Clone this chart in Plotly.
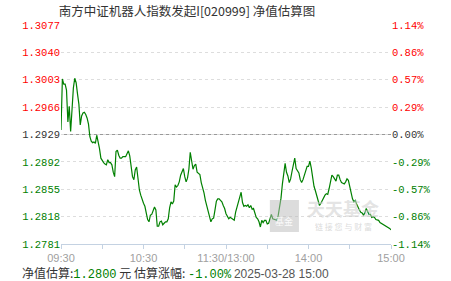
import plotly.graph_objects as go

title_text = "南方中证机器人指数发起I[020999] 净值估算图"
base_nav = 1.2929
est_date = "2025-03-28 15:00"

nav = [
    1.2935, 1.3004, 1.2997, 1.2997, 1.2989, 1.2946, 1.2967, 1.2933, 1.2962, 1.2992,
    1.3005, 1.2999, 1.2984, 1.2970, 1.2942, 1.2954, 1.2958, 1.2959, 1.2956, 1.2951,
    1.2943, 1.2926, 1.2920, 1.2918, 1.2919, 1.2917, 1.2928, 1.2920, 1.2910, 1.2897,
    1.2893, 1.2891, 1.2889, 1.2888, 1.2895, 1.2891, 1.2891, 1.2888, 1.2878, 1.2872,
    1.2906, 1.2908, 1.2901, 1.2897, 1.2897, 1.2899, 1.2899, 1.2899, 1.2903, 1.2907,
    1.2900, 1.2884, 1.2872, 1.2868, 1.2881, 1.2885, 1.2865, 1.2854, 1.2847, 1.2840,
    1.2836, 1.2832, 1.2822, 1.2814, 1.2811, 1.2820, 1.2821, 1.2827, 1.2831, 1.2827,
    1.2805, 1.2805, 1.2811, 1.2812, 1.2807, 1.2809, 1.2811, 1.2811, 1.2815, 1.2830,
    1.2838, 1.2835, 1.2839, 1.2861, 1.2858, 1.2860, 1.2865, 1.2874, 1.2880, 1.2883,
    1.2872, 1.2865, 1.2870, 1.2882, 1.2905, 1.2895, 1.2882, 1.2887, 1.2889, 1.2878,
    1.2877, 1.2875, 1.2864, 1.2858, 1.2850, 1.2840, 1.2832, 1.2824, 1.2820, 1.2811,
    1.2815, 1.2816, 1.2827, 1.2839, 1.2842, 1.2842, 1.2840, 1.2838, 1.2833, 1.2829,
    1.2822, 1.2818, 1.2815, 1.2817, 1.2816, 1.2815, 1.2813, 1.2824, 1.2831, 1.2838,
    1.2844, 1.2851, 1.2837, 1.2832, 1.2833, 1.2832, 1.2834, 1.2830, 1.2833, 1.2828,
    1.2829, 1.2823, 1.2817, 1.2815, 1.2811, 1.2804, 1.2813, 1.2810, 1.2813, 1.2813,
    1.2808, 1.2809, 1.2816, 1.2821, 1.2815, 1.2814, 1.2813, 1.2813, 1.2820, 1.2830,
    1.2843, 1.2862, 1.2881, 1.2890, 1.2878, 1.2873, 1.2864, 1.2869, 1.2879, 1.2891,
    1.2897, 1.2883, 1.2879, 1.2877, 1.2868, 1.2864, 1.2868, 1.2874, 1.2878, 1.2886,
    1.2886, 1.2893, 1.2884, 1.2870, 1.2859, 1.2853, 1.2845, 1.2838, 1.2833, 1.2836,
    1.2840, 1.2845, 1.2847, 1.2849, 1.2848, 1.2856, 1.2866, 1.2874, 1.2872, 1.2868,
    1.2866, 1.2874, 1.2874, 1.2868, 1.2864, 1.2863, 1.2862, 1.2865, 1.2869, 1.2867,
    1.2859, 1.2847, 1.2842, 1.2838, 1.2840, 1.2835, 1.2830, 1.2827, 1.2824, 1.2823,
    1.2820, 1.2823, 1.2829, 1.2825, 1.2821, 1.2821, 1.2817, 1.2818, 1.2817, 1.2814,
    1.2813, 1.2813, 1.2810, 1.2809, 1.2808, 1.2807, 1.2806, 1.2805, 1.2804, 1.2802,
    1.2800,
]

y_tick_values = [1.2781, 1.2818, 1.2855, 1.2892, 1.2929, 1.2966, 1.3003, 1.3040, 1.3077]
y_tick_labels = ["1.2781", "1.2818", "1.2855", "1.2892", "1.2929", "1.2966", "1.3003", "1.3040", "1.3077"]
pct_tick_labels = ["-1.14%", "-0.86%", "-0.57%", "-0.29%", "0.00%", "0.29%", "0.57%", "0.86%", "1.14%"]
x_tick_minutes = [0, 30, 60, 90, 120, 150, 180, 210, 240]
x_tick_labels = ["09:30", "", "10:30", "", "11:30/13:00", "", "14:00", "", "15:00"]

RED = "#ff0000"
GREEN = "#008000"
DARK = "#333333"


def col(v):
    if v > base_nav + 1e-9:
        return RED
    if v < base_nav - 1e-9:
        return GREEN
    return DARK


left_text = [f"<span style='color:{col(v)}'>{t}</span>" for v, t in zip(y_tick_values, y_tick_labels)]
right_text = [f"<span style='color:{col(v)}'>{t}</span>" for v, t in zip(y_tick_values, pct_tick_labels)]

minutes = list(range(len(nav)))

fig = go.Figure()
fig.add_trace(go.Scatter(x=minutes, y=nav, mode="lines",
                         line=dict(color=GREEN, width=1.2), hoverinfo="skip", showlegend=False))
fig.add_trace(go.Scatter(x=minutes, y=nav, mode="lines", yaxis="y2",
                         line=dict(color="rgba(0,0,0,0)", width=0), hoverinfo="skip", showlegend=False))

mono = "Liberation Mono, DejaVu Sans Mono, monospace"

fig.update_layout(
    width=451, height=281,
    margin=dict(l=61, r=60, t=25, b=37),
    paper_bgcolor="white", plot_bgcolor="white",
    title=dict(text=title_text, x=187 / 451, xanchor="center", xref="container",
               y=1 - 12 / 281, yanchor="middle", yref="container",
               font=dict(family="Noto Sans CJK SC", size=12.5, color=DARK)),
    xaxis=dict(range=[0, 240], tickvals=x_tick_minutes, ticktext=x_tick_labels,
               showgrid=False, zeroline=False, showline=True, linecolor="#c4d2e2", linewidth=1,
               ticks="outside", ticklen=4, tickcolor="#c4d2e2",
               tickfont=dict(family="Liberation Sans, Arial", size=11, color="#a0a0a0")),
    yaxis=dict(range=[y_tick_values[0], y_tick_values[-1]], tickvals=y_tick_values, ticktext=left_text,
               showgrid=True, gridcolor="#dddddd", griddash="dot", gridwidth=1,
               zeroline=False, showline=False, ticks="",
               tickfont=dict(family=mono, size=10.5)),
    yaxis2=dict(range=[y_tick_values[0], y_tick_values[-1]], overlaying="y", side="right",
                tickvals=y_tick_values, ticktext=right_text, showgrid=False,
                zeroline=False, showline=False, ticks="",
                tickfont=dict(family=mono, size=10.5)),
)

# base (0.00%) reference line
fig.add_shape(type="line", xref="paper", x0=0, x1=1, yref="y", y0=base_nav, y1=base_nav,
              line=dict(color="#999999", width=1.2), layer="below")

# watermark
fig.add_shape(type="rect", xref="paper", yref="paper", x0=0.633, x1=0.721, y0=0.055, y1=0.201,
              fillcolor="rgba(185,185,185,0.5)", line=dict(width=0), layer="above")
fig.add_annotation(xref="paper", yref="paper", x=0.677, y=0.105, xanchor="center", yanchor="middle",
                   text="基金", showarrow=False,
                   font=dict(family="Noto Sans CJK SC", size=9, color="rgba(255,255,255,0.9)"))
fig.add_annotation(xref="paper", yref="paper", x=0.855, y=0.165, xanchor="center", yanchor="middle",
                   text="<b>天天基金</b>", showarrow=False,
                   font=dict(family="Noto Sans CJK SC", size=18, color="rgba(205,205,205,0.55)"))
fig.add_annotation(xref="paper", yref="paper", x=0.855, y=0.08, xanchor="center", yanchor="middle",
                   text="链 接 您 与 财 富", showarrow=False,
                   font=dict(family="Noto Sans CJK SC", size=8, color="rgba(195,195,195,0.6)"))

last_nav = nav[-1]
pct = (last_nav / base_nav - 1) * 100
footer = (f"净值估算:<span style='color:{GREEN};font-family:Liberation Mono'>{last_nav:.4f}</span> 元 "
          f"估算涨幅: <span style='color:{GREEN};font-family:Liberation Mono'>{pct:.2f}%</span> "
          f"<span style='color:#555555;font-family:Liberation Sans'>{est_date}</span>")
fig.add_annotation(xref="paper", yref="paper", x=(20 - 61) / 330, y=(244 - 272.5) / 219,
                   xanchor="left", yanchor="middle", text=footer, showarrow=False,
                   font=dict(family="Noto Sans CJK SC", size=12, color=DARK))

fig.write_html("out.html")
